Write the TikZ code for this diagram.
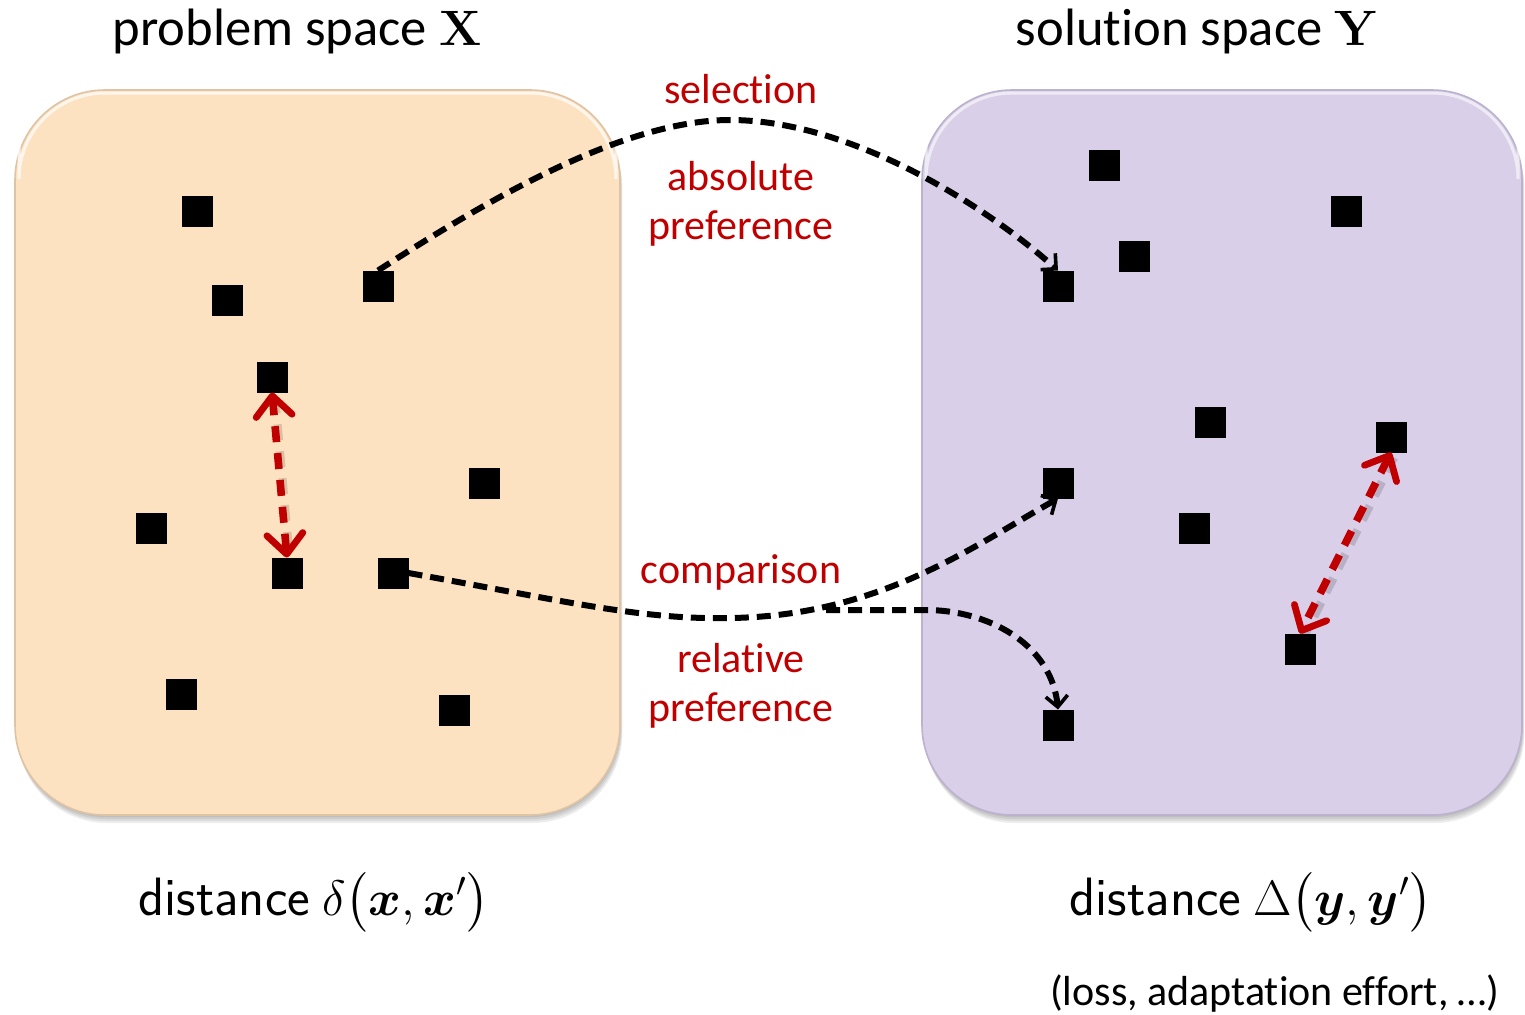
\documentclass[tikz,border=0pt]{standalone}
\usepackage{amsmath}
\usepackage[no-math]{fontspec}
\setmainfont{Carlito}[Ligatures=NoCommon]
\usetikzlibrary{arrows.meta}
\definecolor{peach}{RGB}{253,226,193}
\definecolor{peachedge}{RGB}{222,196,164}
\definecolor{lav}{RGB}{217,207,232}
\definecolor{lavedge}{RGB}{188,177,206}
\definecolor{dred}{RGB}{192,0,0}
\begin{document}
\begin{tikzpicture}[x=0.5pt,y=-0.5pt,
  sq/.style={fill=black,minimum size=15.5pt,inner sep=0pt,outer sep=0pt},
  boxshadow/.style={fill=black,opacity=0.07,rounded corners=45pt},
  blkarrow/.style={line width=3pt,dash pattern=on 7pt off 4pt,
     -{Straight Barb[length=5.5pt,width=11pt,line width=1.8pt]}},
  redarrow/.style={dred,line width=3.8pt,dash pattern=on 8pt off 5.5pt,
     {Straight Barb[length=10pt,width=18pt,line width=3.4pt,round]}-{Straight Barb[length=10pt,width=18pt,line width=3.4pt,round]}},
  redshadow/.style={black,opacity=0.15,line width=4.2pt,dash pattern=on 8pt off 5.5pt},
  title/.style={font=\fontsize{26.3}{30}\selectfont,anchor=base,inner sep=0pt},
  redlbl/.style={font=\fontsize{21}{25}\selectfont,text=dred,anchor=base,inner sep=0pt},
  dist/.style={font=\fontsize{27}{32}\selectfont,anchor=base,inner sep=0pt},
  note/.style={font=\fontsize{21}{25}\selectfont,anchor=base,inner sep=0pt}]
\useasboundingbox (0,0) rectangle (1525,1014);
% box shadows
\foreach \d in {2,4,6,8}{
  \fill[boxshadow] (15+\d*0.3,90+\d) rectangle (620+\d*0.3,815+\d);
  \fill[boxshadow] (922+\d*0.3,90+\d) rectangle (1522+\d*0.3,815+\d);
}
% boxes
\draw[fill=peach,draw=peachedge,line width=0.8pt,rounded corners=45pt] (15,90) rectangle (620,815);
\draw[fill=lav,draw=lavedge,line width=0.8pt,rounded corners=45pt] (922,90) rectangle (1522,815);
\draw[white,opacity=0.7,line width=1.5pt,rounded corners=43pt] (19,93) -- (19,94) |- (616,93) -- (616,94);
\draw[white,opacity=0.6,line width=1.5pt,rounded corners=43pt] (926,93) -- (926,94) |- (1518,93) -- (1518,94);
% squares left
\node[sq] (l1) at (197,211) {};
\node[sq] (l2) at (227,300) {};
\node[sq] (l3) at (378,286) {};
\node[sq] (l4) at (272,377) {};
\node[sq] (l5) at (484,483) {};
\node[sq] (l6) at (151,528) {};
\node[sq] (l7) at (287,573) {};
\node[sq] (l8) at (393,573) {};
\node[sq] (l9) at (181,694) {};
\node[sq] (l10) at (454,710) {};
% squares right
\node[sq] (r1) at (1104,165) {};
\node[sq] (r2) at (1346,211) {};
\node[sq] (r3) at (1134,256) {};
\node[sq] (r4) at (1058,286) {};
\node[sq] (r5) at (1210,422) {};
\node[sq] (r6) at (1391,437) {};
\node[sq] (r7) at (1058,483) {};
\node[sq] (r8) at (1194,528) {};
\node[sq] (r9) at (1300,649) {};
\node[sq] (r10) at (1058,725) {};
% titles
\node[title] (tx) at (297,45) {problem space $\mathbf{X}$};
\node[title] (ty) at (1197,45) {solution space $\mathbf{Y}$};
% red labels
\node[redlbl] (sel) at (741,103) {selection};
\node[redlbl] (abs) at (741,190) {absolute};
\node[redlbl] (pref1) at (741,239) {preference};
\node[redlbl] (comp) at (741,583) {comparison};
\node[redlbl] (rel) at (741,672) {relative};
\node[redlbl] (pref2) at (741,721) {preference};
% bottom labels
\node[dist] (dx) at (314,915) {\textsf{distance} $\delta\bigl(\boldsymbol{x},\boldsymbol{x}'\bigr)$};
\node[dist] (dy) at (1251,915) {\textsf{distance} $\Delta\bigl(\boldsymbol{y},\boldsymbol{y}'\bigr)$};
\node[note] (loss) at (1275,1005) {(loss, adaptation effort, \ldots)};
% black arrows
\draw[blkarrow] (l3.north) .. controls (480,205) and (620,120) .. (730,120)
   .. controls (850,120) and (985,205) .. (r4.north);
\draw[blkarrow] (l8.east) .. controls (560,600) and (640,620) .. (730,618)
   .. controls (880,616) and (975,545) .. (r7.south);
\coordinate (split) at (826,610);
\draw[blkarrow] (split) -- (930,610) .. controls (995,612) and (1052,648) .. (r10.north);
% red arrows
\draw[redshadow] ([shift={(3,5)}]l4.south) -- ([shift={(3,5)}]l7.north);
\draw[redshadow] ([shift={(3,5)}]r6.south) -- ([shift={(3,5)}]r9.north);
\draw[redarrow] (l4.south) -- (l7.north);
\draw[redarrow] (r6.south) -- (r9.north);
\end{tikzpicture}
\end{document}
